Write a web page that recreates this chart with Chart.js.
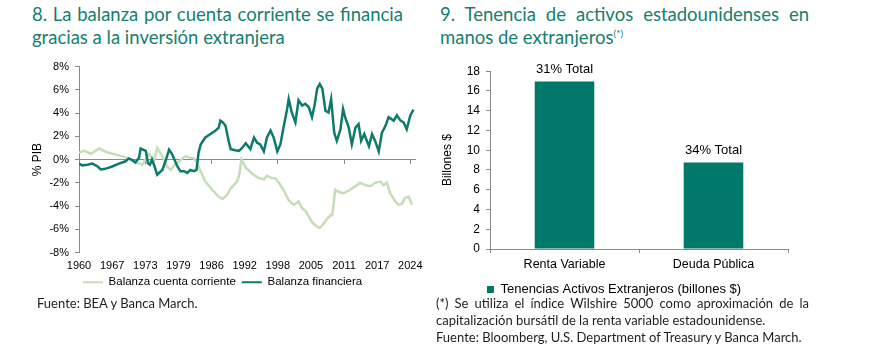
<!DOCTYPE html>
<html>
<head>
<meta charset="utf-8">
<script src="https://cdn.jsdelivr.net/npm/chart.js@4.4.1/dist/chart.umd.min.js"></script>
<style>
  body { margin: 0; background: #fff; width: 874px; height: 364px; position: relative; overflow: hidden; }
  .title { position: absolute; font-family: "Lato", "Noto Sans", sans-serif; color: #14806f; font-size: 18.5px; line-height: 23px; text-align: justify; text-align-last: left; }
  .title sup { font-size: 10px; line-height: 0; vertical-align: 7px; }
  .note { position: absolute; font-family: "Lato", "Noto Sans", sans-serif; color: #1e1e1e; font-size: 13px; line-height: 17px; }
  canvas { position: absolute; }
</style>
</head>
<body>
<div class="title" style="left:32px; top:3px; width:371px;">8. La balanza por cuenta corriente se financia gracias a la inversión extranjera</div>
<div class="title" style="left:440px; top:3px; width:369px;">9. Tenencia de activos estadounidenses en manos de extranjeros<sup>(*)</sup></div>

<canvas id="lineChart" width="400" height="247" style="left:30px; top:54px;"></canvas>
<canvas id="barChart" width="400" height="252" style="left:430px; top:58px;"></canvas>

<div class="note" style="left:37px; top:295px;">Fuente: BEA y Banca March.</div>
<div class="note" style="left:436px; top:295px; width:373px; text-align:justify; text-align-last:left;">(*) Se utiliza el índice Wilshire 5000 como aproximación de la capitalización bursátil de la renta variable estadounidense.<br>Fuente: Bloomberg, U.S. Department of Treasury y Banca March.</div>

<script>
    // chart 8 data (% PIB)
    var tickYears = ['1960', '1967', '1973', '1979', '1986', '1992', '1998', '2005', '2011', '2017', '2024'];

    var corrienteYears = [1960.0, 1961.0, 1962.3, 1963.9, 1965.5, 1967.4, 1969.3, 1970.0, 1971.3, 1972.2, 1973.5, 1974.5,
        1975.1, 1976.1, 1977.0, 1977.7, 1978.6, 1979.6, 1980.6, 1981.5, 1982.2, 1982.8, 1983.5, 1984.4, 1985.7, 1987.0,
        1987.7, 1988.6, 1989.3, 1990.5, 1990.9, 1991.4, 1992.2, 1993.4, 1994.7, 1995.7, 1996.3, 1997.3, 1997.9, 1998.6,
        1999.5, 2000.5, 2001.5, 2001.8, 2002.4, 2003.1, 2003.7, 2004.4, 2005.0, 2006.0, 2006.5, 2007.3, 2007.9, 2008.6,
        2008.9, 2009.5, 2010.2, 2011.1, 2012.4, 2013.7, 2014.3, 2015.3, 2016.3, 2017.2, 2018.2, 2018.8, 2019.5, 2020.1,
        2021.1, 2021.7, 2022.4, 2023.0, 2023.7, 2024.3];
    var corrienteValues = [0.6, 0.75, 0.5, 0.95, 0.6, 0.4, 0.15, 0.0, -0.3, -0.45, 0.5, -0.1,
        1.0, 0.3, -0.6, -0.9, -0.4, -0.05, 0.3, 0.15, 0.1, -0.3, -1.0, -1.9, -2.6, -3.2,
        -3.4, -3.05, -2.5, -1.9, -1.4, 0.0, -0.7, -1.2, -1.6, -1.7, -1.4, -1.6, -1.6, -2.0,
        -2.6, -3.5, -3.9, -3.8, -3.6, -4.2, -4.4, -4.9, -5.4, -5.8, -5.9, -5.5, -5.1, -4.8,
        -4.8, -2.6, -2.8, -2.9, -2.6, -2.2, -2.0, -2.2, -2.3, -2.0, -1.9, -2.2, -2.0, -2.9,
        -3.6, -3.9, -3.8, -3.3, -3.2, -3.9];

    var financieraYears = [1960.0, 1960.6, 1961.6, 1962.6, 1963.6, 1964.2, 1965.1, 1966.4, 1967.7, 1969.0, 1969.6, 1970.3,
        1970.9, 1971.6, 1971.9, 1972.9, 1973.3, 1973.7, 1974.1, 1974.6, 1975.1, 1976.1, 1976.7, 1977.4, 1978.0, 1979.0,
        1979.6, 1980.3, 1980.9, 1981.5, 1982.2, 1982.7, 1983.1, 1983.5, 1984.4, 1985.4, 1986.4, 1987.0, 1987.3, 1987.8,
        1988.3, 1988.9, 1989.3, 1990.2, 1990.9, 1991.5, 1992.2, 1993.1, 1993.8, 1994.4, 1995.0, 1995.7, 1996.3, 1997.0,
        1997.6, 1998.3, 1998.9, 1999.5, 2000.2, 2000.5, 2001.1, 2001.8, 2002.4, 2003.1, 2003.7, 2004.4, 2005.0, 2005.5,
        2006.0, 2006.5, 2007.0, 2007.6, 2008.2, 2008.7, 2009.3, 2009.8, 2010.5, 2011.0, 2011.4, 2012.1, 2012.7, 2013.4,
        2014.0, 2014.5, 2015.1, 2016.0, 2016.6, 2017.2, 2017.9, 2018.5, 2019.2, 2019.8, 2020.8, 2021.4, 2022.1, 2022.7,
        2023.3, 2024.0, 2024.6];
    var financieraValues = [-0.35, -0.5, -0.45, -0.35, -0.6, -0.85, -0.8, -0.6, -0.35, -0.15, 0.1, -0.05,
        -0.25, 0.15, 0.95, 0.75, -0.3, -0.45, 0.0, -0.6, -1.3, -0.9, -0.15, 0.85, 0.45, -0.6,
        -1.0, -1.0, -1.15, -0.9, -1.0, -0.9, 0.6, 1.3, 1.9, 2.2, 2.5, 2.75, 3.35, 3.2,
        2.9, 1.6, 0.9, 0.8, 0.75, 1.0, 1.4, 0.9, 1.9, 1.45, 1.3, 0.7, 1.9, 2.5,
        1.9, 0.7, 1.3, 2.75, 4.35, 5.2, 4.05, 3.2, 5.1, 4.65, 4.8, 4.5, 3.65, 4.65,
        6.1, 6.5, 6.1, 4.2, 4.05, 5.2, 2.3, 1.6, 2.6, 4.35, 3.65, 2.75, 1.3, 2.75,
        3.05, 1.6, 2.2, 1.15, 2.2, 1.6, 0.7, 2.3, 2.9, 3.65, 3.35, 3.8, 3.35, 3.2,
        2.6, 3.8, 4.3];

    // chart 9 data (billones $)
    var barCategories = ['Renta Variable', 'Deuda Pública'];
    var barValues = [16.95, 8.75];
    var barNotes = ['31% Total', '34% Total'];

    var axisGray = '#8a8a8a';
    var textFont = '"Liberation Sans", Arial, sans-serif';
    Chart.defaults.font.family = textFont;
    Chart.defaults.color = '#000';

    function toPoints(xs, ys) {
        return xs.map(function(x, i) { return { x: x, y: ys[i] }; });
    }

    var lineCtx = document.getElementById('lineChart').getContext('2d');
    new Chart(lineCtx, {
        type: 'line',
        data: {
            datasets: [{
                label: 'Balanza cuenta corriente',
                data: toPoints(corrienteYears, corrienteValues),
                borderColor: '#c6ddb8',
                backgroundColor: '#c6ddb8',
                borderWidth: 2.5,
                pointRadius: 0,
                order: 1
            }, {
                label: 'Balanza financiera',
                data: toPoints(financieraYears, financieraValues),
                borderColor: '#0e7a6b',
                backgroundColor: '#0e7a6b',
                borderWidth: 2.5,
                pointRadius: 0,
                order: 0
            }]
        },
        options: {
            responsive: false,
            animation: false,
            layout: { padding: { top: 5, right: 15, bottom: 3, left: 0 } },
            plugins: {
                tooltip: { enabled: false },
                legend: {
                    position: 'bottom',
                    labels: {
                        boxWidth: 20,
                        boxHeight: 2,
                        padding: 6,
                        font: { size: 11.5 },
                        sort: function(a, b) { return a.datasetIndex - b.datasetIndex; },
                        generateLabels: function(chart) {
                            return Chart.defaults.plugins.legend.labels.generateLabels(chart).map(function(item) {
                                item.lineWidth = 0;
                                return item;
                            });
                        }
                    }
                }
            },
            scales: {
                x: {
                    type: 'linear',
                    position: 'bottom',
                    min: 1960,
                    max: 2024.9,
                    border: { display: false },
                    grid: { display: false },
                    afterBuildTicks: function(axis) {
                        axis.ticks = tickYears.map(function(t, i) { return { value: 1960 + i * 6.4 }; });
                    },
                    afterFit: function(axis) { axis.height = 18; },
                    ticks: {
                        autoSkip: false,
                        maxRotation: 0,
                        padding: -1.5,
                        font: { size: 11 },
                        callback: function(value, index) { return tickYears[index]; }
                    }
                },
                xz: {
                    type: 'linear',
                    position: { y: 0 },
                    min: 1960,
                    max: 2024.9,
                    border: { display: true, color: axisGray, width: 1 },
                    grid: { drawOnChartArea: false, drawTicks: true, tickLength: 4, color: axisGray },
                    afterBuildTicks: function(axis) {
                        axis.ticks = [0, 1, 2, 3, 4, 5].map(function(i) { return { value: 1960 + i * 12.8 }; });
                    },
                    ticks: { display: false }
                },
                y: {
                    min: -8,
                    max: 8,
                    border: { display: true, color: axisGray },
                    grid: { drawOnChartArea: false, drawTicks: true, tickLength: 4, color: axisGray },
                    afterFit: function(axis) { axis.width = 49; },
                    title: { display: true, text: '% PIB', font: { size: 12 }, padding: 0 },
                    ticks: {
                        stepSize: 2,
                        padding: 6,
                        font: { size: 11 },
                        callback: function(v) { return v + '%'; }
                    }
                }
            }
        }
    });

    // text above each bar
    var barNotesPlugin = {
        id: 'barNotes',
        afterDatasetsDraw: function(chart) {
            var ctx = chart.ctx;
            var meta = chart.getDatasetMeta(0);
            ctx.save();
            ctx.font = '13px ' + textFont;
            ctx.fillStyle = '#000';
            ctx.textAlign = 'center';
            ctx.textBaseline = 'bottom';
            meta.data.forEach(function(bar, i) {
                ctx.fillText(barNotes[i], bar.x, bar.y - 6);
            });
            ctx.restore();
        }
    };

    var barCtx = document.getElementById('barChart').getContext('2d');
    new Chart(barCtx, {
        type: 'bar',
        data: {
            labels: barCategories,
            datasets: [{
                label: 'Tenencias Activos Extranjeros (billones $)',
                data: barValues,
                backgroundColor: '#00786a',
                categoryPercentage: 1,
                barPercentage: 0.4
            }]
        },
        plugins: [barNotesPlugin],
        options: {
            responsive: false,
            animation: false,
            layout: { padding: { top: 13, right: 42, bottom: 4, left: 10 } },
            plugins: {
                tooltip: { enabled: false },
                legend: {
                    position: 'bottom',
                    labels: { boxWidth: 7, boxHeight: 7, padding: 4, font: { size: 13 } }
                }
            },
            scales: {
                x: {
                    border: { display: true, color: axisGray },
                    grid: { offset: true, drawOnChartArea: false, drawTicks: true, tickLength: 4, color: axisGray },
                    afterFit: function(axis) { axis.height = 30; },
                    ticks: { padding: 4, font: { size: 12.5 } }
                },
                y: {
                    min: 0,
                    max: 18,
                    border: { display: true, color: axisGray },
                    grid: { drawOnChartArea: false, drawTicks: true, tickLength: 4, color: axisGray },
                    afterFit: function(axis) { axis.width = 50; },
                    title: { display: true, text: 'Billones $', font: { size: 12 }, padding: 0 },
                    ticks: { stepSize: 2, padding: 6, font: { size: 12 } }
                }
            }
        }
    });
</script>
</body>
</html>
